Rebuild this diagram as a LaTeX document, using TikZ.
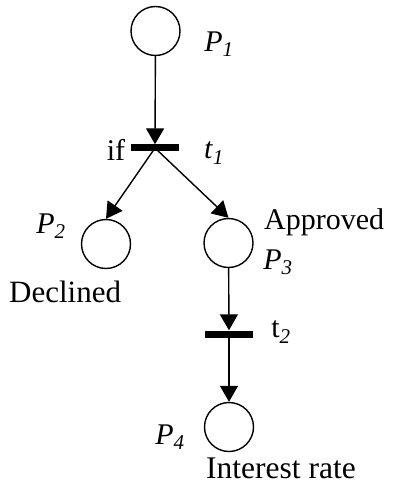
\documentclass[tikz,border=0pt]{standalone}
\usepackage{fontspec}
\setmainfont{Liberation Serif}
\usetikzlibrary{arrows.meta}
\begin{document}
\begin{tikzpicture}[x=1pt,y=-1pt,
  place/.style={circle,draw,line width=1.4pt,minimum size=49pt,inner sep=0pt},
  trans/.style={fill=black,minimum width=48pt,minimum height=7pt,inner sep=0pt},
  lbl/.style={font=\fontsize{30}{33}\selectfont,inner sep=0pt},
  arc/.style={line width=1.4pt,-{Triangle[length=16pt,width=18pt]}}]
\useasboundingbox (0,0) rectangle (394,486);
\node[place] (p1) at (155.5,31) {};
\node[trans] (t1) at (155,148) {};
\node[place] (p2) at (106,244) {};
\node[place] (p3) at (228.5,243) {};
\node[trans] (t2) at (229,334) {};
\node[place] (p4) at (229,427) {};
\node[lbl] (lp1) at (219,44) {\textit{P}\textsubscript{\textit{1}}};
\node[lbl] (lif) at (116,150) {if};
\node[lbl] (lt1) at (214,153) {\textit{t}\textsubscript{\textit{1}}};
\node[lbl] (lp2) at (51,226) {\textit{P}\textsubscript{\textit{2}}};
\node[lbl] (lp3) at (278,262) {\textit{P}\textsubscript{\textit{3}}};
\node[lbl,anchor=base west] (lapp) at (264,229) {Approved};
\node[lbl,anchor=base west,font=\fontsize{31}{34}\selectfont] (ldec) at (9,302) {Declined};
\node[lbl] (lt2) at (281,332) {t\textsubscript{\textit{2}}};
\node[lbl] (lp4) at (170,437) {\textit{P}\textsubscript{\textit{4}}};
\node[lbl,anchor=base west,font=\fontsize{31.5}{34}\selectfont] (lint) at (206,478) {Interest rate};
\draw[arc] (p1) -- (t1.north);
\draw[arc] (t1.center) -- (p2.north);
\draw[arc] (t1.center) -- (p3.north);
\draw[arc] (p3) -- (t2.north);
\draw[arc] (t2.center) -- (p4.north);
\end{tikzpicture}
\end{document}
